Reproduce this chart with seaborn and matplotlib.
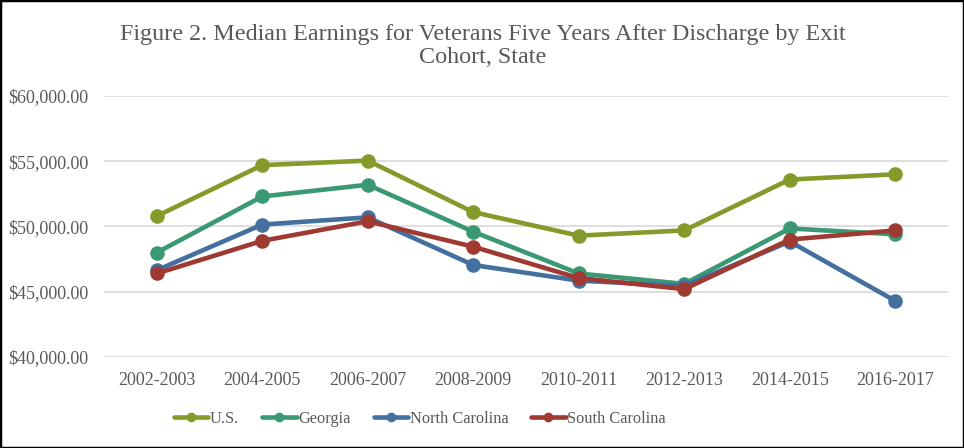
import matplotlib
matplotlib.use("Agg")
import matplotlib.pyplot as plt
import seaborn as sns
import pandas as pd
from matplotlib.patches import Rectangle
from matplotlib.ticker import FuncFormatter

cohorts = ["2002-2003", "2004-2005", "2006-2007", "2008-2009",
           "2010-2011", "2012-2013", "2014-2015", "2016-2017"]
us = [50800, 54700, 55050, 51100, 49300, 49700, 53600, 54000]
georgia = [48000, 52300, 53200, 49600, 46400, 45600, 49850, 49400]
north_carolina = [46650, 50150, 50700, 47050, 45850, 45450, 48850, 44300]
south_carolina = [46400, 48900, 50400, 48450, 46050, 45200, 49000, 49700]
series_names = ["U.S.", "Georgia", "North Carolina", "South Carolina"]
colors = ["#849A2A", "#3A9872", "#43709F", "#9F3A33"]
title = "Figure 2. Median Earnings for Veterans Five Years After Discharge by Exit\nCohort, State"

rows = []
for name, vals in zip(series_names, [us, georgia, north_carolina, south_carolina]):
    for c, v in zip(cohorts, vals):
        rows.append({"Cohort": c, "Earnings": v, "State": name})
df = pd.DataFrame(rows)

sns.set_theme(style="white")
plt.rcParams["font.family"] = ["Liberation Serif", "DejaVu Serif"]
text_color = "#595959"

fig = plt.figure(figsize=(9.64, 4.48), dpi=100)
ax = fig.add_axes([104 / 964, 1 - 357 / 448, (948 - 104) / 964, (357 - 96) / 448])

sns.lineplot(data=df, x="Cohort", y="Earnings", hue="State", hue_order=series_names,
             palette=colors, marker="o", markersize=10.5, markeredgewidth=0,
             linewidth=3.3, sort=False, ax=ax, legend=True)

ax.set_xlim(-0.5, len(cohorts) - 0.5)
ax.set_ylim(40000, 60000)
ax.set_yticks([40000, 45000, 50000, 55000, 60000])
ax.yaxis.set_major_formatter(FuncFormatter(lambda v, p: f"${v:,.2f}"))
ax.grid(axis="y", color="#D9D9D9", linewidth=1.2)
ax.grid(axis="x", visible=False)
ax.set_axisbelow(True)
for s in ax.spines.values():
    s.set_visible(False)
ax.tick_params(axis="both", length=0, labelsize=13, colors=text_color)
ax.tick_params(axis="y", pad=11.5)
ax.tick_params(axis="x", pad=11)
ax.set_xlabel("")
ax.set_ylabel("")

handles, labels = ax.get_legend_handles_labels()
leg = ax.legend(handles, labels, loc="center", bbox_to_anchor=(420 / 964, 1 - 419 / 448),
                bbox_transform=fig.transFigure, ncol=4, frameon=False, fontsize=11.8,
                handlelength=2.1, handletextpad=0.1, columnspacing=1.4, labelcolor=text_color)
for h in leg.legend_handles:
    h.set_markersize(7)
    h.set_linewidth(3.3)

fig.text(483 / 964, 1 - 46 / 448, title, ha="center", va="center", fontsize=17.4,
         color=text_color, linespacing=1.15)

fig.patches.append(Rectangle((0, 0), 1, 1, transform=fig.transFigure, fill=False,
                             edgecolor="black", linewidth=2.5))

fig.savefig("out.png", dpi=100)
